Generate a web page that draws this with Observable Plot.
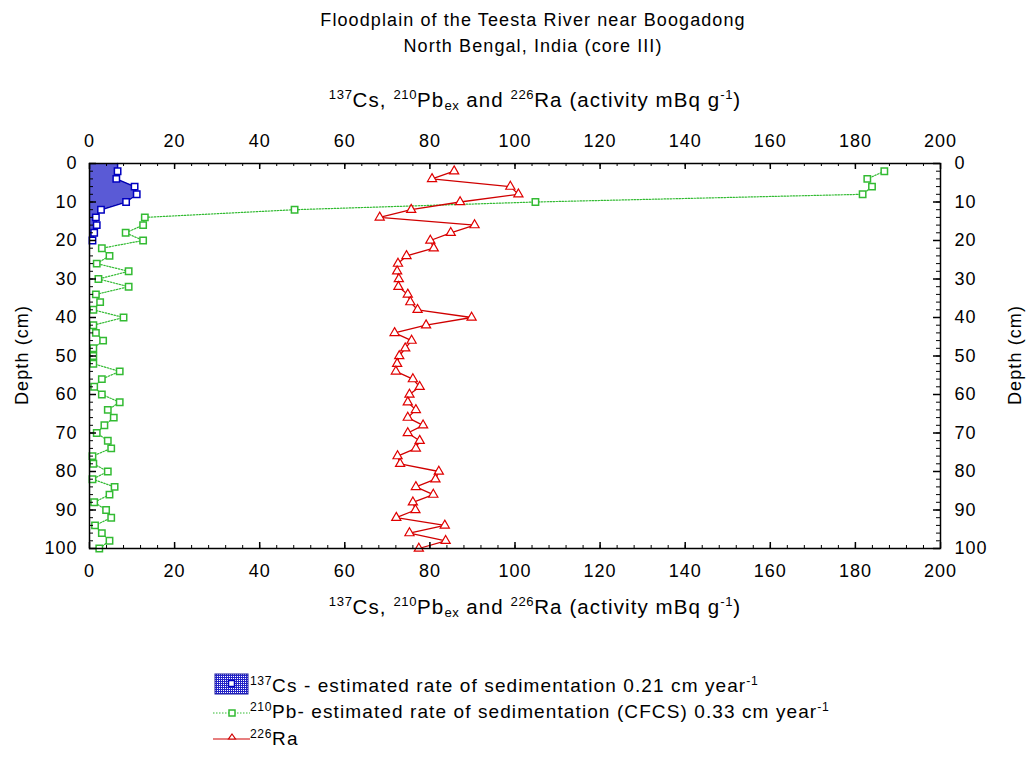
<!DOCTYPE html>
<html><head><meta charset="utf-8">
<script src="https://cdn.jsdelivr.net/npm/d3@7"></script>
<script src="https://cdn.jsdelivr.net/npm/@observablehq/plot@0.6"></script>
<style>
body{margin:0;background:#fff;font-family:"Liberation Sans",Arial,sans-serif;}
#wrap{position:relative;width:1032px;height:760px;overflow:hidden;background:#fff;}
.t{position:absolute;font-size:18px;color:#000;white-space:nowrap;line-height:1;letter-spacing:1.1px;}
.ax{font-size:20.5px;}
.lg{font-size:19px;}
.c{transform:translate(-50%,-50%);}
sup,sub{font-size:0.64em;line-height:0;letter-spacing:0.6px;}
sup{vertical-align:0.6em;}
sub{vertical-align:-0.25em;}
.rot{transform:translate(-50%,-50%) rotate(-90deg);}
#chart{position:absolute;left:0;top:0;}
</style></head><body><div id="wrap">
<div id="chart"></div>
<div class="t c" style="left:533px;top:20px;">Floodplain of the Teesta River near Boogadong</div>
<div class="t c" style="left:533px;top:46px;">North Bengal, India (core III)</div>
<div class="t c ax" style="left:535px;top:100px;"><sup>137</sup>Cs, <sup>210</sup>Pb<sub>ex</sub> and <sup>226</sup>Ra (activity mBq g<sup>-1</sup>)</div>
<div class="t c ax" style="left:535px;top:607px;"><sup>137</sup>Cs, <sup>210</sup>Pb<sub>ex</sub> and <sup>226</sup>Ra (activity mBq g<sup>-1</sup>)</div>
<div class="t rot" style="left:22px;top:355px;">Depth (cm)</div>
<div class="t rot" style="left:1015px;top:355px;">Depth (cm)</div>
<svg style="position:absolute;left:205px;top:668px;" width="50" height="85">
  <defs><pattern id="legPat" width="2" height="2" patternUnits="userSpaceOnUse"><rect width="2" height="2" style="fill:#2424c8"/><rect x="0" y="0" width="1" height="1" style="fill:#ffffff"/></pattern></defs>
  <rect x="10" y="6" width="33" height="20" fill="url(#legPat)" stroke="#1818a0" stroke-width="1"/>
  <rect x="23.5" y="12.5" width="6" height="6" fill="#fff" stroke="#0000c0" stroke-width="1.5"/>
  <line x1="8" x2="45" y1="45" y2="45" stroke="#33bb33" stroke-dasharray="1.5,1.5"/>
  <rect x="24" y="42" width="6" height="6" fill="#fff" stroke="#33bb33" stroke-width="1.5"/>
  <line x1="8" x2="45" y1="71" y2="71" stroke="#d00000" stroke-width="1.2"/>
  <path d="M27,66 L30.5,71 L23.5,71 Z" fill="#fff" stroke="#d00000" stroke-width="1.2"/>
</svg>
<div class="t lg" style="left:250px;top:676px;"><sup>137</sup>Cs - estimated rate of sedimentation 0.21 cm year<sup>-1</sup></div>
<div class="t lg" style="left:250px;top:702px;"><sup>210</sup>Pb- estimated rate of sedimentation (CFCS) 0.33 cm year<sup>-1</sup></div>
<div class="t lg" style="left:250px;top:729px;"><sup>226</sup>Ra</div>
</div>
<script>
// Depths (cm)
const depths = [2,4,6,8,10,12,14,16,18,20,22,24,26,28,30,32,34,36,38,40,42,44,46,48,50,52,54,56,58,60,62,64,66,68,70,72,74,76,78,80,82,84,86,88,90,92,94,96,98,100];
// 210Pb ex activity (mBq/g)
const pbValues = [186.8,182.8,183.9,181.7,104.8,48.2,13,12.6,8.5,12.6,2.9,4.7,1.7,9.2,2.1,9.2,1.5,2.5,0.9,8,0.9,1.5,3.2,0.9,0.9,0.9,7.1,2.9,1.1,2.9,7.1,4.3,5.7,3.5,1.7,4.3,5.1,0.7,0.9,4.3,0.7,5.9,4.7,1.1,3.9,5.1,1.3,2.9,4.7,2.3];
// 226Ra activity (mBq/g)
const raValues = [85.7,80.5,98.9,100.8,87.1,75.6,68.2,90.5,84.9,80.1,80.9,74.5,72.5,72.3,72.7,72.6,74.8,75.4,77.1,89.8,79.1,71.7,75.7,74.2,72.8,72.3,72,76,77.6,75.2,74.8,76.7,74.8,78.4,74.8,77.6,76.7,72.4,73,82.1,81.3,76.7,80.8,76,76.6,72.1,83.5,75.2,83.7,77.4];
// 137Cs activity (mBq/g)
const csDepths = [0,2,4,6,8,10,12,14,16,18,20];
const csValues = [6.6,6.6,6.3,10.6,11.1,8.6,2.7,1.5,1.7,1.1,0.7];
// Tick labels
const xTicks = [0,20,40,60,80,100,120,140,160,180,200];
const yTicks = [0,10,20,30,40,50,60,70,80,90,100];

const pb = depths.map((d,i)=>({depth:d, value:pbValues[i]}));
const ra = depths.map((d,i)=>({depth:d, value:raValues[i]}));
const cs = csDepths.map((d,i)=>({depth:d, value:csValues[i]}));
const csMarkers = cs.filter(d=>d.depth>0);

const W=1032, H=600, mL=89, mR=92, mT=163, mB=52;
const innerH = H-mT-mB, innerW = W-mL-mR;
const xMinor = d3.range(0,201,4), yMinor = d3.range(0,101,2);

const svg = Plot.plot({
  width:W, height:H, marginLeft:mL, marginRight:mR, marginTop:mT, marginBottom:mB,
  style:{fontFamily:"'Liberation Sans', Arial, sans-serif", fontSize:"18px", color:"#000", background:"none", letterSpacing:"1px"},
  x:{domain:[0,200]},
  y:{domain:[0,100], reverse:true},
  marks:[
    Plot.areaX(cs,{y:"depth", x:"value", fill:"#5a5ad6"}),
    Plot.line(cs,{x:"value", y:"depth", stroke:"#0000b0", strokeWidth:1.5}),
    Plot.line(pb,{x:"value", y:"depth", stroke:"#33bb33", strokeWidth:1.2, strokeDasharray:"1.5,1.5"}),
    Plot.line(ra,{x:"value", y:"depth", stroke:"#d00000", strokeWidth:1.3}),
    Plot.dot(csMarkers,{x:"value", y:"depth", symbol:"square", r:3.6, fill:"white", stroke:"#0000c0", strokeWidth:1.5}),
    Plot.dot(pb,{x:"value", y:"depth", symbol:"square", r:3.6, fill:"white", stroke:"#33bb33", strokeWidth:1.5}),
    Plot.dot(ra,{x:"value", y:"depth", symbol:"triangle", r:3.4, fill:"white", stroke:"#e00000", strokeWidth:1.2}),
    Plot.frame({stroke:"black", strokeWidth:1.5}),
    // inward ticks
    Plot.tickX(xMinor,{x:d=>d, stroke:"black", insetBottom: innerH-3}),
    Plot.tickX(xTicks,{x:d=>d, stroke:"black", strokeWidth:1.5, insetBottom: innerH-6}),
    Plot.tickX(xMinor,{x:d=>d, stroke:"black", insetTop: innerH-3}),
    Plot.tickX(xTicks,{x:d=>d, stroke:"black", strokeWidth:1.5, insetTop: innerH-6}),
    Plot.tickY(yMinor,{y:d=>d, stroke:"black", insetRight: innerW-4}),
    Plot.tickY(yTicks,{y:d=>d, stroke:"black", strokeWidth:1.5, insetRight: innerW-7}),
    Plot.tickY(yMinor,{y:d=>d, stroke:"black", insetLeft: innerW-4}),
    Plot.tickY(yTicks,{y:d=>d, stroke:"black", strokeWidth:1.5, insetLeft: innerW-7}),
    Plot.axisX(xTicks,{anchor:"top", tickSize:0, tickPadding:17, label:null}),
    Plot.axisX(xTicks,{anchor:"bottom", tickSize:0, tickPadding:16, label:null}),
    Plot.axisY(yTicks,{anchor:"left", tickSize:0, tickPadding:12, label:null}),
    Plot.axisY(yTicks,{anchor:"right", tickSize:0, tickPadding:14, label:null})
  ]
});
document.getElementById("chart").appendChild(svg);
</script>
</body></html>
